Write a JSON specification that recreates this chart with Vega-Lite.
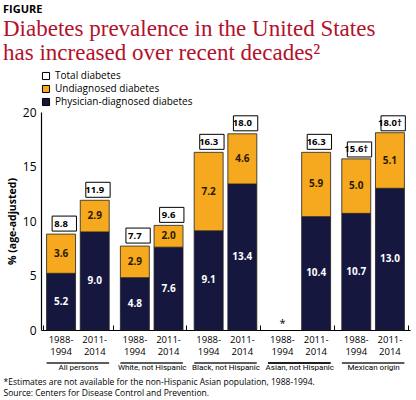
{
  "$schema": "https://vega.github.io/schema/vega-lite/v6.json",
  "background": "white",
  "autosize": {"type": "fit", "contains": "padding"},
  "width": 416,
  "height": 400,
  "padding": {"left": 3, "right": 6, "top": 4, "bottom": 3},
  "title": {
    "text": "FIGURE",
    "subtitle": ["Diabetes prevalence in the United States", "has increased over recent decades²"],
    "anchor": "start",
    "font": "Open Sans",
    "fontSize": 11,
    "fontWeight": "bold",
    "color": "black",
    "subtitleFont": "Liberation Serif",
    "subtitleFontSize": 23,
    "subtitleColor": "#b3112c",
    "subtitleLineHeight": 24,
    "subtitlePadding": 3,
    "offset": 6
  },
  "data": {
    "values": [
      {"group": "All persons", "period": "1988-1994", "type": "Physician-diagnosed diabetes", "value": 5.2, "label": "5.2"},
      {"group": "All persons", "period": "1988-1994", "type": "Undiagnosed diabetes", "value": 3.6, "label": "3.6"},
      {"group": "All persons", "period": "1988-1994", "type": "Total diabetes", "value": 8.8, "label": "8.8"},
      {"group": "All persons", "period": "2011-2014", "type": "Physician-diagnosed diabetes", "value": 9.0, "label": "9.0"},
      {"group": "All persons", "period": "2011-2014", "type": "Undiagnosed diabetes", "value": 2.9, "label": "2.9"},
      {"group": "All persons", "period": "2011-2014", "type": "Total diabetes", "value": 11.9, "label": "11.9"},
      {"group": "White, not Hispanic", "period": "1988-1994", "type": "Physician-diagnosed diabetes", "value": 4.8, "label": "4.8"},
      {"group": "White, not Hispanic", "period": "1988-1994", "type": "Undiagnosed diabetes", "value": 2.9, "label": "2.9"},
      {"group": "White, not Hispanic", "period": "1988-1994", "type": "Total diabetes", "value": 7.7, "label": "7.7"},
      {"group": "White, not Hispanic", "period": "2011-2014", "type": "Physician-diagnosed diabetes", "value": 7.6, "label": "7.6"},
      {"group": "White, not Hispanic", "period": "2011-2014", "type": "Undiagnosed diabetes", "value": 2.0, "label": "2.0"},
      {"group": "White, not Hispanic", "period": "2011-2014", "type": "Total diabetes", "value": 9.6, "label": "9.6"},
      {"group": "Black, not Hispanic", "period": "1988-1994", "type": "Physician-diagnosed diabetes", "value": 9.1, "label": "9.1"},
      {"group": "Black, not Hispanic", "period": "1988-1994", "type": "Undiagnosed diabetes", "value": 7.2, "label": "7.2"},
      {"group": "Black, not Hispanic", "period": "1988-1994", "type": "Total diabetes", "value": 16.3, "label": "16.3"},
      {"group": "Black, not Hispanic", "period": "2011-2014", "type": "Physician-diagnosed diabetes", "value": 13.4, "label": "13.4"},
      {"group": "Black, not Hispanic", "period": "2011-2014", "type": "Undiagnosed diabetes", "value": 4.6, "label": "4.6"},
      {"group": "Black, not Hispanic", "period": "2011-2014", "type": "Total diabetes", "value": 18.0, "label": "18.0"},
      {"group": "Asian, not Hispanic", "period": "1988-1994", "type": "Note", "value": 0, "label": "*"},
      {"group": "Asian, not Hispanic", "period": "2011-2014", "type": "Physician-diagnosed diabetes", "value": 10.4, "label": "10.4"},
      {"group": "Asian, not Hispanic", "period": "2011-2014", "type": "Undiagnosed diabetes", "value": 5.9, "label": "5.9"},
      {"group": "Asian, not Hispanic", "period": "2011-2014", "type": "Total diabetes", "value": 16.3, "label": "16.3"},
      {"group": "Mexican origin", "period": "1988-1994", "type": "Physician-diagnosed diabetes", "value": 10.7, "label": "10.7"},
      {"group": "Mexican origin", "period": "1988-1994", "type": "Undiagnosed diabetes", "value": 5.0, "label": "5.0"},
      {"group": "Mexican origin", "period": "1988-1994", "type": "Total diabetes", "value": 15.6, "label": "15.6†"},
      {"group": "Mexican origin", "period": "2011-2014", "type": "Physician-diagnosed diabetes", "value": 13.0, "label": "13.0"},
      {"group": "Mexican origin", "period": "2011-2014", "type": "Undiagnosed diabetes", "value": 5.1, "label": "5.1"},
      {"group": "Mexican origin", "period": "2011-2014", "type": "Total diabetes", "value": 18.0, "label": "18.0†"}
    ]
  },
  "layer": [
    {
      "transform": [{"filter": "datum.type === 'Undiagnosed diabetes' || datum.type === 'Physician-diagnosed diabetes'"}],
      "mark": {"type": "bar", "stroke": "#222222", "strokeWidth": 0.8},
      "encoding": {
        "x": {
          "field": "group",
          "type": "nominal",
          "sort": ["All persons", "White, not Hispanic", "Black, not Hispanic", "Asian, not Hispanic", "Mexican origin"],
          "scale": {"paddingInner": 0.06, "paddingOuter": 0.03},
          "axis": {
            "title": ["*Estimates are not available for the non-Hispanic Asian population, 1988-1994.", "Source: Centers for Disease Control and Prevention."],
            "titleAnchor": "start",
            "titleAlign": "left",
            "titleX": -38,
            "titleFont": "Open Sans",
            "titleFontSize": 8.5,
            "titleFontWeight": "normal",
            "titleColor": "black",
            "titlePadding": 6,
            "titleLineHeight": 11,
            "labelAngle": 0,
            "labelFont": "Roboto",
            "labelFontSize": 8,
            "labelColor": "black",
            "labelPadding": 38,
            "tickBand": "extent",
            "ticks": true,
            "tickSize": -5,
            "tickColor": "black",
            "tickWidth": 1,
            "domainColor": "black",
            "domainWidth": 1.2
          }
        },
        "xOffset": {
          "field": "period",
          "type": "nominal",
          "sort": ["1988-1994", "2011-2014"],
          "scale": {"paddingInner": 0.14, "paddingOuter": 0.1}
        },
        "y": {
          "field": "value",
          "type": "quantitative",
          "stack": "zero",
          "scale": {"domain": [0, 20]},
          "axis": {
            "title": "% (age-adjusted)",
            "titleFont": "Open Sans",
            "titleFontSize": 10.5,
            "titleFontWeight": "bold",
            "titleColor": "black",
            "values": [0, 5, 10, 15, 20],
            "labelFont": "Open Sans",
            "labelFontSize": 12,
            "labelColor": "black",
            "ticks": false,
            "grid": false,
            "domainColor": "black",
            "domainWidth": 1.2,
            "labelPadding": 5,
            "titlePadding": 5
          }
        },
        "color": {
          "field": "type",
          "type": "nominal",
          "scale": {
            "domain": ["Total diabetes", "Undiagnosed diabetes", "Physician-diagnosed diabetes"],
            "range": ["white", "#f6a81e", "#15173f"]
          },
          "legend": {
            "title": null,
            "orient": "top",
            "direction": "vertical",
            "offset": 4,
            "symbolType": "square",
            "symbolSize": 50,
            "symbolStrokeColor": "black",
            "symbolStrokeWidth": 1,
            "labelFont": "Open Sans",
            "labelFontSize": 10,
            "labelColor": "black",
            "rowPadding": 1
          }
        },
        "order": {"field": "type", "sort": "ascending"}
      }
    },
    {
      "transform": [{"filter": "datum.type === 'Total diabetes'"}],
      "mark": {"type": "bar", "stroke": "black", "strokeWidth": 1, "width": {"band": 0.84}, "yOffset": -3, "y2Offset": -18},
      "encoding": {
        "x": {"field": "group", "type": "nominal", "sort": ["All persons", "White, not Hispanic", "Black, not Hispanic", "Asian, not Hispanic", "Mexican origin"]},
        "xOffset": {"field": "period", "type": "nominal", "sort": ["1988-1994", "2011-2014"]},
        "y": {"field": "value", "type": "quantitative"},
        "y2": {"field": "value"},
        "color": {"field": "type", "type": "nominal"}
      }
    },
    {
      "transform": [{"filter": "datum.type === 'Total diabetes'"}],
      "mark": {"type": "text", "dy": -10.5, "baseline": "middle", "font": "Open Sans", "fontSize": 9.5, "fontWeight": "bold", "color": "black"},
      "encoding": {
        "x": {"field": "group", "type": "nominal", "sort": ["All persons", "White, not Hispanic", "Black, not Hispanic", "Asian, not Hispanic", "Mexican origin"]},
        "xOffset": {"field": "period", "type": "nominal", "sort": ["1988-1994", "2011-2014"]},
        "y": {"field": "value", "type": "quantitative"},
        "text": {"field": "label"}
      }
    },
    {
      "transform": [
        {"filter": "datum.type === 'Undiagnosed diabetes' || datum.type === 'Physician-diagnosed diabetes'"},
        {"stack": "value", "groupby": ["group", "period"], "sort": [{"field": "type", "order": "ascending"}], "as": ["v0", "v1"]},
        {"calculate": "(datum.v0 + datum.v1) / 2", "as": "mid"}
      ],
      "mark": {"type": "text", "baseline": "middle", "font": "Open Sans", "fontSize": 10, "fontWeight": "bold"},
      "encoding": {
        "x": {"field": "group", "type": "nominal", "sort": ["All persons", "White, not Hispanic", "Black, not Hispanic", "Asian, not Hispanic", "Mexican origin"]},
        "xOffset": {"field": "period", "type": "nominal", "sort": ["1988-1994", "2011-2014"]},
        "y": {"field": "mid", "type": "quantitative"},
        "text": {"field": "label"},
        "color": {"condition": {"test": "datum.type === 'Undiagnosed diabetes'", "value": "#2a1a00"}, "value": "white"}
      }
    },
    {
      "transform": [{"filter": "datum.type === 'Note'"}],
      "mark": {"type": "text", "dy": -6, "baseline": "middle", "font": "Open Sans", "fontSize": 11, "color": "black"},
      "encoding": {
        "x": {"field": "group", "type": "nominal", "sort": ["All persons", "White, not Hispanic", "Black, not Hispanic", "Asian, not Hispanic", "Mexican origin"]},
        "xOffset": {"field": "period", "type": "nominal", "sort": ["1988-1994", "2011-2014"]},
        "y": {"field": "value", "type": "quantitative"},
        "text": {"field": "label"}
      }
    },
    {
      "transform": [
        {"filter": "datum.type === 'Total diabetes' || datum.type === 'Note'"},
        {"calculate": "[slice(datum.period, 0, 5), slice(datum.period, 5)]", "as": "plabel"}
      ],
      "mark": {"type": "text", "baseline": "top", "dy": 5, "lineHeight": 12, "font": "Open Sans", "fontSize": 9.5, "color": "black"},
      "encoding": {
        "x": {"field": "group", "type": "nominal", "sort": ["All persons", "White, not Hispanic", "Black, not Hispanic", "Asian, not Hispanic", "Mexican origin"]},
        "xOffset": {"field": "period", "type": "nominal", "sort": ["1988-1994", "2011-2014"]},
        "y": {"datum": 0},
        "text": {"field": "plabel"}
      }
    },
    {
      "transform": [{"filter": "datum.type === 'Note' || (datum.type === 'Total diabetes' && datum.period === '2011-2014')"}],
      "mark": {"type": "bar", "fill": null, "stroke": "black", "strokeWidth": 0.8, "width": {"band": 0.9}, "yOffset": 33, "y2Offset": 33},
      "encoding": {
        "x": {"field": "group", "type": "nominal", "sort": ["All persons", "White, not Hispanic", "Black, not Hispanic", "Asian, not Hispanic", "Mexican origin"]},
        "y": {"datum": 0},
        "y2": {"datum": 0}
      }
    }
  ],
  "config": {"view": {"stroke": null}}
}
